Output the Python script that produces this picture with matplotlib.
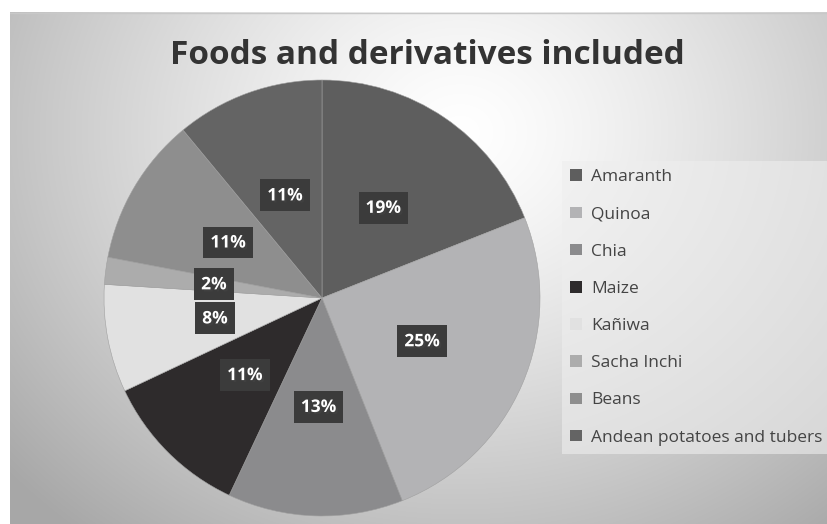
import matplotlib
matplotlib.use("Agg")
import matplotlib.pyplot as plt
import numpy as np
from matplotlib.patches import Patch
import matplotlib.patheffects as pe

categories = ["Amaranth", "Quinoa", "Chia", "Maize", "Kañiwa", "Sacha Inchi", "Beans",
              "Andean potatoes and tubers"]
values = [19, 25, 13, 11, 8, 2, 11, 11]
colors = ["#5e5e5e", "#b3b3b5", "#8b8b8d", "#2e2b2c", "#e1e1e1", "#acacac", "#8e8e8e", "#646464"]
title = "Foods and derivatives included"

W, H = 827, 524
fig = plt.figure(figsize=(W / 100, H / 100), dpi=100)
fig.patch.set_facecolor("white")

# background with radial gradient
bg = fig.add_axes([10 / W, 0, (W - 10) / W, (H - 12) / H])
bg.set_axis_off()
yy, xx = np.mgrid[0:H - 12, 0:W - 10]
cx, cy = 450, 120
d = np.sqrt(((xx - cx) / 500.0) ** 2 + ((yy - cy) / 430.0) ** 2)
val = 1.0 - 0.27 * np.clip(d, 0, 1.2) ** 1.3
img = np.dstack([val, val, val])
bg.imshow(img, aspect="auto", interpolation="bilinear", extent=[0, 1, 0, 1], origin="upper")
bg.set_xlim(0, 1)
bg.set_ylim(0, 1)
bg.plot([0, 1], [0.999, 0.999], color="#c8c8c8", lw=1)

cxp, cyp, r = 322, 298, 218
ax = fig.add_axes([(cxp - r) / W, (H - cyp - r) / H, 2 * r / W, 2 * r / H])
wedges, texts, autotexts = ax.pie(
    values, colors=colors, startangle=90, counterclock=False, radius=1.0,
    autopct=lambda p: f"{p:.0f}%", pctdistance=0.5,
    wedgeprops=dict(edgecolor="#a0a0a0", linewidth=0.4),
    textprops=dict(color="white", fontsize=12.5, fontweight="bold", family="Open Sans"))
for t in autotexts:
    t.set_bbox(dict(boxstyle="square,pad=0.4", facecolor="#3b3b3b", edgecolor="none"))
    t.set_path_effects([pe.withSimplePatchShadow(offset=(1.5, -1.5), alpha=0.3)])
ax.set_xlim(-1, 1)
ax.set_ylim(-1, 1)
ax.set_aspect("equal")
ax.set_axis_off()

fig.text(427 / W, 1 - 55 / H, title, ha="center", va="center", fontsize=24,
         fontweight="bold", family="Open Sans", color="#333333")

handles = [Patch(facecolor=c, edgecolor="none") for c in colors]
leg = fig.legend(handles, categories, loc="upper left", bbox_to_anchor=(553 / W, 1 - 152 / H),
                 frameon=True, fancybox=False, handlelength=0.65,
                 handleheight=0.65, handletextpad=0.55, labelspacing=1.22,
                 borderpad=0.5, prop=dict(family="Open Sans", size=12.5))
leg.get_frame().set_facecolor("#eeeeee")
leg.get_frame().set_edgecolor("none")
leg.get_frame().set_alpha(0.6)
for t in leg.get_texts():
    t.set_color("#444444")

fig.savefig("out.png", dpi=100)
